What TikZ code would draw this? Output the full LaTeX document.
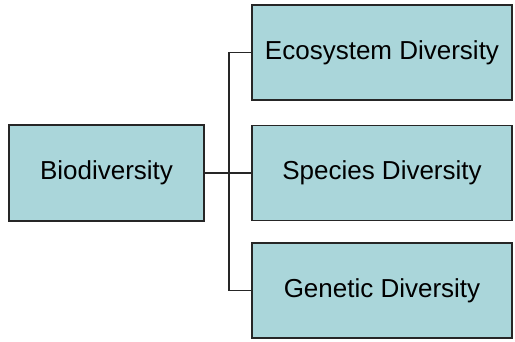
\documentclass[tikz,border=0pt]{standalone}
\usepackage{fontspec}
\setmainfont{Liberation Sans}
\usetikzlibrary{positioning}
\definecolor{boxteal}{RGB}{170,214,218}
\tikzset{
    node style box/.style={draw=black!85,fill=boxteal,line width=1.6pt,%
        minimum width=260pt,minimum height=95pt,inner sep=0pt,%
        font=\fontsize{26}{30}\selectfont},
    node style root/.style={node style box,minimum width=195pt,minimum height=96pt},
    line style tree/.style={draw,black!85,line width=1.4pt},
}

\begin{document}
\begin{tikzpicture}[x=1pt,y=-1pt]
\useasboundingbox (0,0) rectangle (515,341);
% les boites
\node [node style root] (bio) at (106.5,173) {Biodiversity};
\node [node style box]  (eco) at (382,52.5)  {Ecosystem Diversity};
\node [node style box]  (spe) at (382,173)   {Species Diversity};
\node [node style box]  (gen) at (382,290.5) {Genetic Diversity};
% les liens
\coordinate (fork) at (229,173);
\path [line style tree] (bio.east) -- (spe.west);
\path [line style tree] (eco.west) -| (fork) |- (gen.west);
\end{tikzpicture}
\end{document}
